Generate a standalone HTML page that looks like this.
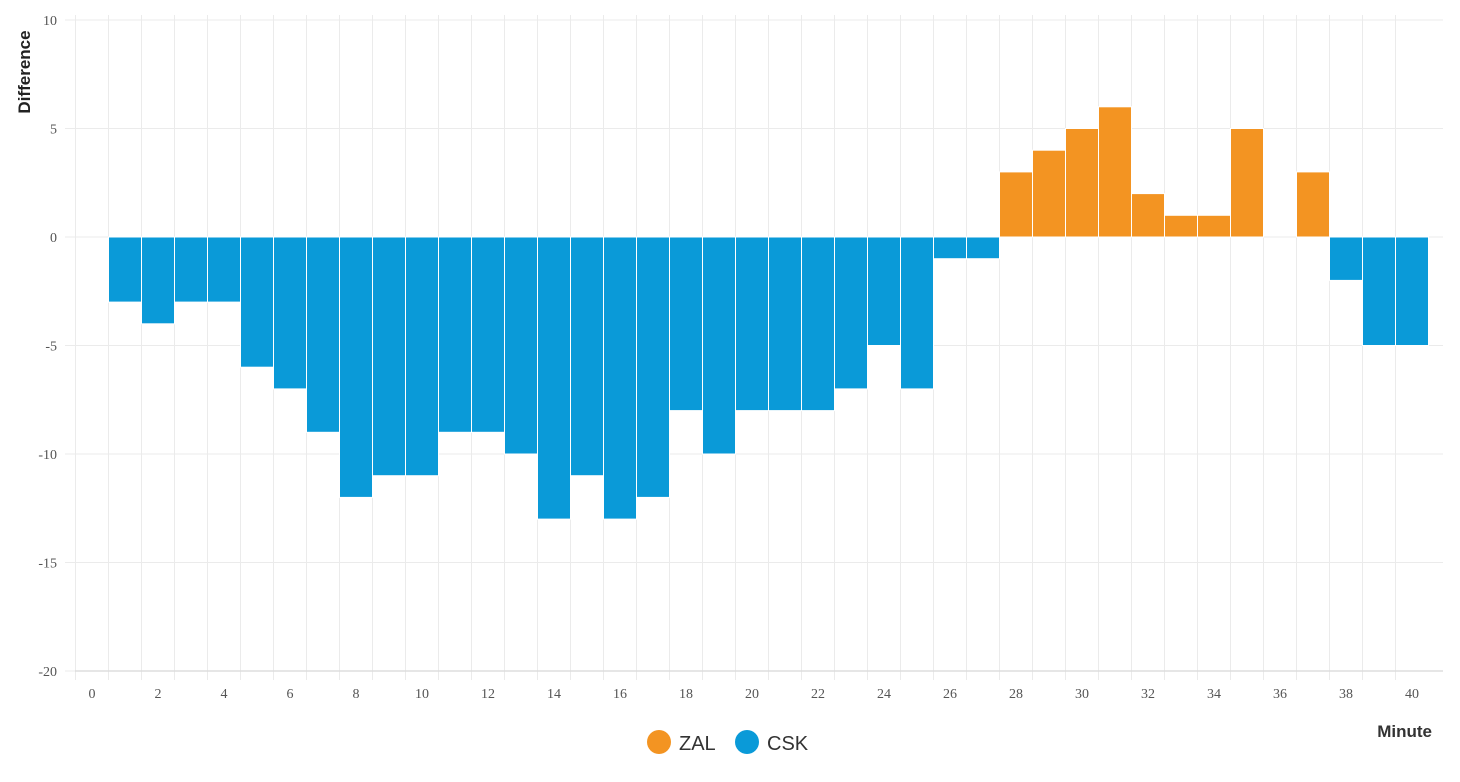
<!DOCTYPE html>
<html><head><meta charset="utf-8"><style>
body{margin:0;background:#fff;font-family:"Liberation Sans",sans-serif}
svg text{font-family:"Liberation Serif",serif}
</style></head><body>
<svg width="1460" height="777">
<g id="grid"></g>
<g id="bars"></g>
<g id="axes"></g>
<text x="30" y="72" transform="rotate(-90 30 72)" text-anchor="middle" font-size="17" font-weight="bold" style="font-family:'Liberation Sans',sans-serif" fill="#222">Difference</text>
<text x="1432" y="737" text-anchor="end" font-size="17" font-weight="bold" style="font-family:'Liberation Sans',sans-serif" fill="#333">Minute</text>
<g><circle cx="659" cy="742" r="12" fill="#f39422"/><text x="679" y="750" font-size="20" style="font-family:'Liberation Sans',sans-serif" fill="#333">ZAL</text></g>
<g><circle cx="747" cy="742" r="12" fill="#0a9ad8"/><text x="767" y="750" font-size="20" style="font-family:'Liberation Sans',sans-serif" fill="#333">CSK</text></g>
</svg>
<script>
const minutes=[1,2,3,4,5,6,7,8,9,10,11,12,13,14,15,16,17,18,19,20,21,22,23,24,25,26,27,28,29,30,31,32,33,34,35,36,37,38,39,40];
const diffs=[-3,-4,-3,-3,-6,-7,-9,-12,-11,-11,-9,-9,-10,-13,-11,-13,-12,-8,-10,-8,-8,-8,-7,-5,-7,-1,-1,3,4,5,6,2,1,1,5,0,3,-2,-5,-5];
const yTicks=[10,5,0,-5,-10,-15,-20];
const xTicks=[0,2,4,6,8,10,12,14,16,18,20,22,24,26,28,30,32,34,36,38,40];
const NS="http://www.w3.org/2000/svg";
const x=v=>92+33*v;
const y=v=>237-21.7*v;
function mk(tag,attrs,parent){const e=document.createElementNS(NS,tag);for(const k in attrs)e.setAttribute(k,attrs[k]);parent.appendChild(e);return e;}
const grid=document.getElementById('grid'),bars=document.getElementById('bars'),axes=document.getElementById('axes');
yTicks.forEach(t=>{
  const l=mk('line',{x1:65,x2:1443,y1:y(t),y2:y(t),stroke:'#ebebeb','stroke-width':1},grid);
  
  
  const tx=mk('text',{x:57,y:y(t)+5,'text-anchor':'end','font-size':14,fill:'#555'},axes);
  tx.textContent=t;
  
  
});
for(let i=-0.5;i<40;i++){
  const l=mk('line',{x1:x(i),x2:x(i),y1:15,y2:680,stroke:'#ebebeb','stroke-width':1},grid);
  
  
}
const ax=mk('line',{x1:75,x2:1443,y1:y(-20),y2:y(-20),stroke:'#ddd','stroke-width':1.5},axes);


xTicks.forEach(t=>{
  const tx=mk('text',{x:x(t),y:698,'text-anchor':'middle','font-size':14,fill:'#555'},axes);
  tx.textContent=t;
  
  
});
minutes.forEach((m,i)=>{
  const v=diffs[i];if(v===0)return;
  const r=mk('rect',{x:x(m-0.5),y:Math.min(y(v),y(0)),width:33,height:Math.abs(y(v)-y(0)),fill:v>0?'#f39422':'#0a9ad8',stroke:'#fff','stroke-width':1},bars);
  
  
});
</script>
</body></html>
